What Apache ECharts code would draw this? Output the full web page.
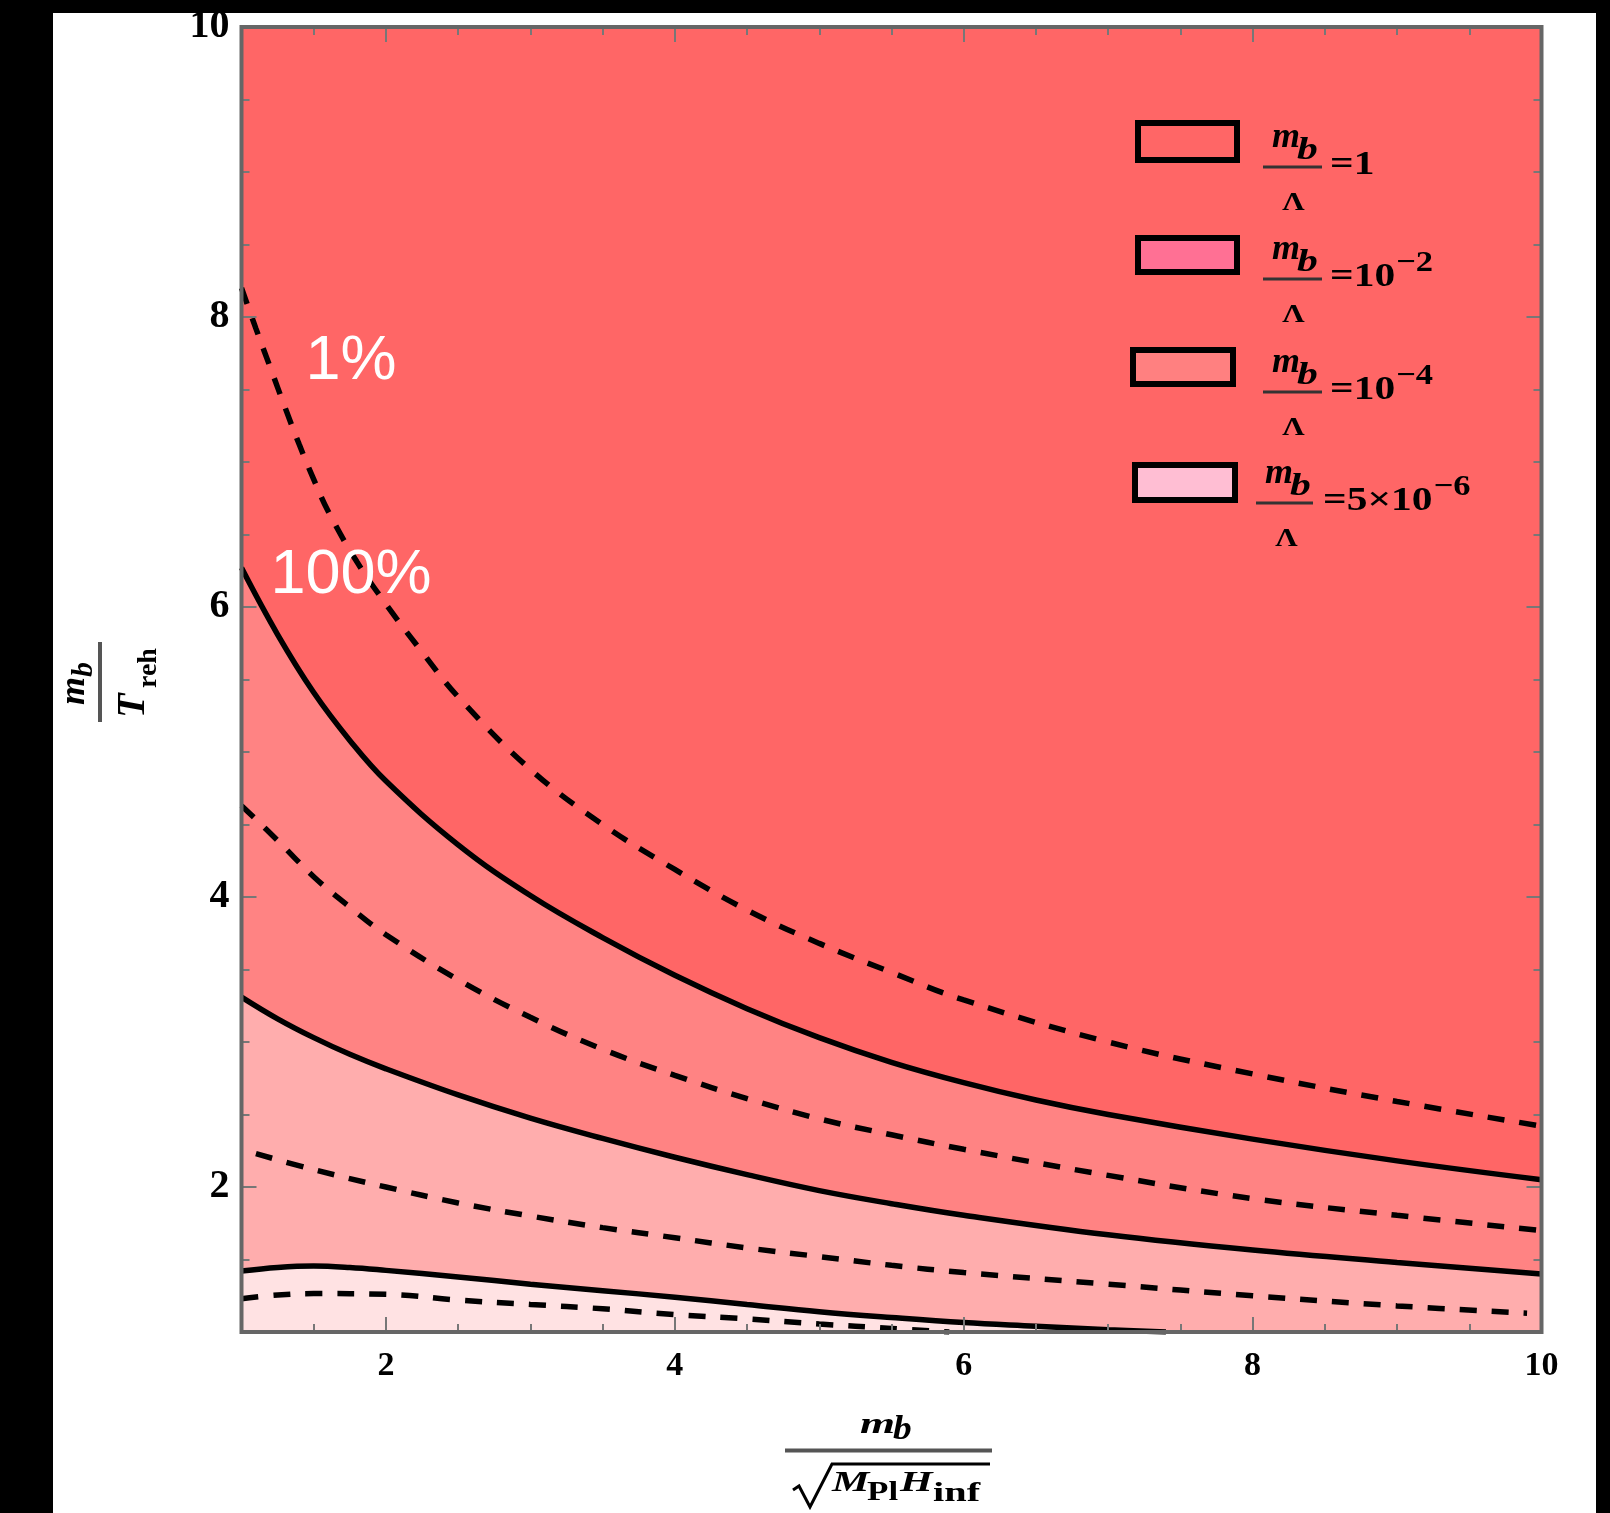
<!DOCTYPE html>
<html><head><meta charset="utf-8">
<script src="https://cdn.jsdelivr.net/npm/echarts@6/dist/echarts.min.js"></script>
<style>
html,body{margin:0;padding:0;background:#000;width:1610px;height:1513px;overflow:hidden}
#chart{position:absolute;left:53px;top:13px;width:1543px;height:1500px;background:#fff}
</style></head><body><div id="chart"></div>
<script>
// ---- data ----
const xTickLabels = [2, 4, 6, 8, 10];
const yTickLabels = [2, 4, 6, 8, 10];

// solid contours (boundaries of the shaded bands)
const s1X = [1, 1.25, 1.5, 1.75, 2, 2.5, 3, 3.5, 4, 4.5, 5, 5.5, 6, 6.5, 7, 8, 9, 10];
const s1Y = [6.27, 5.81, 5.41, 5.08, 4.80, 4.36, 4.01, 3.72, 3.46, 3.23, 3.03, 2.86, 2.72, 2.60, 2.50, 2.33, 2.18, 2.05];
const s2X = [1, 1.25, 1.5, 1.75, 2, 2.5, 3, 3.5, 4, 4.5, 5, 5.5, 6, 7, 8, 9, 10];
const s2Y = [3.31, 3.16, 3.03, 2.915, 2.815, 2.635, 2.475, 2.335, 2.205, 2.085, 1.975, 1.885, 1.805, 1.67, 1.565, 1.48, 1.40];
const s3X = [1, 1.25, 1.5, 1.75, 2, 2.5, 3, 3.5, 4, 4.5, 5, 5.5, 6, 6.5, 7, 7.4];
const s3Y = [1.42, 1.445, 1.455, 1.445, 1.425, 1.38, 1.33, 1.285, 1.24, 1.19, 1.14, 1.10, 1.065, 1.04, 1.015, 1.0];

// dashed contours
const d1X = [1, 1.1, 1.2, 1.3, 1.4, 1.5, 1.6, 1.8, 2, 2.25, 2.5, 3, 3.5, 4, 4.5, 5, 5.5, 6, 7, 8, 9, 10];
const d1Y = [8.20, 7.92, 7.65, 7.38, 7.12, 6.88, 6.66, 6.31, 6.02, 5.69, 5.38, 4.88, 4.50, 4.19, 3.91, 3.68, 3.48, 3.29, 3.0, 2.78, 2.59, 2.42];
const d2X = [1, 1.25, 1.5, 1.75, 2, 2.5, 3, 3.5, 4, 4.5, 5, 5.5, 6, 7, 8, 9, 10];
const d2Y = [4.63, 4.39, 4.14, 3.93, 3.74, 3.43, 3.17, 2.95, 2.77, 2.61, 2.47, 2.36, 2.26, 2.08, 1.92, 1.805, 1.70];
const d3X = [1.1, 1.5, 2, 2.5, 3, 3.5, 4, 4.5, 5, 5.5, 6, 7, 8, 9, 9.9];
const d3Y = [2.23, 2.12, 2.0, 1.89, 1.80, 1.72, 1.65, 1.58, 1.52, 1.46, 1.41, 1.33, 1.25, 1.18, 1.13];
const d4X = [1, 1.25, 1.5, 2, 2.5, 3, 3.5, 4, 4.5, 5, 5.5, 5.9];
const d4Y = [1.23, 1.255, 1.265, 1.26, 1.22, 1.19, 1.16, 1.12, 1.09, 1.055, 1.025, 1.0];

// legend
const legendValues = ['=1', '=10', '=10', '=5×10'];
const legendExps = ['', '−2', '−4', '−6'];
const legendFills = ['#FF6666', '#FF7094', '#FF8080', '#FFBED3'];
const curveLabels = ['1%', '100%'];

// ---- styles / layout ----
const bandTop = '#FF6666', band1 = '#FF8383', band2 = '#FFADAD', band3 = '#FFE2E3';
const G = {left: 188.5, top: 14, width: 1300, height: 1305};
const SERIF = '"Liberation Serif", "Times New Roman", serif';
const SANS = '"Liberation Sans", Arial, sans-serif';
const zip = (xs, ys) => xs.map((x, i) => [x, ys[i]]);

const mctx = document.createElement('canvas').getContext('2d');
function tw(font, s) { mctx.font = font; return mctx.measureText(s).width; }
function T(text, x, y, font, o) {
  o = o || {};
  const el = {type: 'text', x: x, y: y, z: 120, silent: true,
    style: {text: text, font: font, fill: o.fill || '#000',
      align: o.align || 'left', textAlign: o.align || 'left',
      verticalAlign: 'middle', textVerticalAlign: 'middle'}};
  if (o.sx) el.scaleX = o.sx;
  return el;
}

function mkAxis(dim, pos, major) {
  const labels = dim === 'x' ? xTickLabels : yTickLabels;
  const a = {
    type: 'value', min: 1, max: 10, position: pos, z: 10,
    interval: major ? 1 : 0.5,
    axisLine: {show: false}, splitLine: {show: false}, minorTick: {show: false},
    axisTick: {show: true, inside: true, length: major ? 15 : 8, lineStyle: {color: '#777', width: 2}},
    axisLabel: {show: false}
  };
  if (major) a.axisTick.customValues = labels;
  if (major && (pos === 'bottom' || pos === 'left')) {
    a.axisLabel = {show: true, customValues: labels, fontFamily: SERIF, fontWeight: 'bold',
      fontSize: dim === 'x' ? 34 : 40, color: '#000', margin: dim === 'x' ? 17 : 12};
  }
  return a;
}

function solid(xs, ys, fill) {
  return {type: 'line', data: zip(xs, ys), symbol: 'none', smooth: 0.4, z: 2,
    lineStyle: {color: '#000', width: 5.5},
    areaStyle: {color: fill, opacity: 1, origin: 'start'}};
}
function dashed(xs, ys) {
  return {type: 'line', data: zip(xs, ys), symbol: 'none', smooth: 0.4, z: 3,
    lineStyle: {color: '#000', width: 5.5, type: [17, 15], cap: 'butt'}};
}

const gfx = [];
// frame
gfx.push({type: 'rect', z: 110, silent: true, shape: {x: G.left, y: G.top, width: G.width, height: G.height},
  style: {fill: 'none', stroke: '#666', lineWidth: 4}});
// curve labels
gfx.push(T(curveLabels[0], 298, 348.5, 'normal 63px ' + SANS, {fill: '#fff', align: 'center'}));
gfx.push(T(curveLabels[1], 298, 562.5, 'normal 63px ' + SANS, {fill: '#fff', align: 'center'}));

// legend
const boxes = [[1085, 110, 99, 37], [1085, 225, 99, 34], [1080, 337, 100, 34], [1082, 452, 100, 35]];
const fracY = [154, 266, 379, 490];
for (let i = 0; i < 4; i++) {
  const b = boxes[i];
  gfx.push({type: 'rect', z: 115, silent: true, shape: {x: b[0], y: b[1], width: b[2], height: b[3]},
    style: {fill: legendFills[i], stroke: '#000', lineWidth: 6}});
  const fy = fracY[i], dx = i === 3 ? -7 : 0;
  gfx.push(T('m', 1219 + dx, fy - 29.2, 'italic bold 36px ' + SERIF));
  gfx.push(T('b', 1244 + dx, fy - 15.9, 'italic bold 32px ' + SERIF, {sx: 1.3}));
  gfx.push({type: 'line', z: 120, silent: true, shape: {x1: 1210 + dx, y1: fy, x2: 1269 + (i === 3 ? -9 : 0), y2: fy},
    style: {stroke: '#333', lineWidth: 3}});
  gfx.push(T('Λ', 1240.5 + dx, fy + 36.2, 'bold 26px ' + SERIF, {sx: 1.2, align: 'center'}));
  const mf = 'bold 34px ' + SERIF;
  const mx = 1277 + dx;
  gfx.push(T(legendValues[i], mx, fy - 1.6, mf, {sx: 1.22}));
  if (legendExps[i]) {
    gfx.push(T(legendExps[i], mx + tw(mf, legendValues[i]) * 1.22 + 1, fy - 16.2, 'bold 30px ' + SERIF, {sx: 1.15}));
  }
}

// x axis title: m_b / sqrt(M_Pl H_inf)
gfx.push(T('m', 807, 1411.8, 'italic bold 30px ' + SERIF, {sx: 1.5}));
gfx.push(T('b', 840, 1417.4, 'italic bold 34px ' + SERIF, {sx: 1.1}));
gfx.push({type: 'line', z: 120, silent: true, shape: {x1: 732, y1: 1437.5, x2: 939, y2: 1437.5}, style: {stroke: '#555', lineWidth: 4}});
gfx.push({type: 'polyline', z: 120, silent: true, shape: {points: [[740, 1477], [746, 1473], [757, 1494], [779, 1451], [937, 1451]]},
  style: {stroke: '#000', lineWidth: 3, fill: 'none'}});
gfx.push(T('M', 779, 1469.8, 'italic bold 30px ' + SERIF, {sx: 1.4}));
gfx.push(T('Pl', 814, 1479.8, 'bold 28px ' + SERIF, {sx: 1.25}));
gfx.push(T('H', 847, 1469.8, 'italic bold 30px ' + SERIF, {sx: 1.4}));
gfx.push(T('inf', 880, 1480.5, 'bold 28px ' + SERIF, {sx: 1.44}));

// y axis title: m_b / T_reh (rotated)
gfx.push({type: 'group', x: 47, y: 669, rotation: Math.PI / 2, z: 120, children: [
  T('m', -23, -25.2, 'italic bold 36px ' + SERIF),
  T('b', 5, -16.2, 'italic bold 30px ' + SERIF),
  {type: 'line', z: 120, silent: true, shape: {x1: -40, y1: 0, x2: 40, y2: 0}, style: {stroke: '#555', lineWidth: 4}},
  T('T', -36, 33.4, 'italic bold 40px ' + SERIF),
  T('reh', -6, 48.5, 'bold 28px ' + SERIF)
]});

const chart = echarts.init(document.getElementById('chart'), null, {renderer: 'canvas'});
chart.setOption({
  animation: false,
  backgroundColor: '#fff',
  grid: {left: G.left, top: G.top, width: G.width, height: G.height, show: true,
    backgroundColor: bandTop, borderWidth: 0, containLabel: false, outerBoundsMode: 'none'},
  xAxis: [mkAxis('x', 'bottom', true), mkAxis('x', 'bottom', false), mkAxis('x', 'top', true), mkAxis('x', 'top', false)],
  yAxis: [mkAxis('y', 'left', true), mkAxis('y', 'left', false), mkAxis('y', 'right', true), mkAxis('y', 'right', false)],
  series: [
    solid(s1X, s1Y, band1),
    solid(s2X, s2Y, band2),
    solid(s3X, s3Y, band3),
    dashed(d1X, d1Y),
    dashed(d2X, d2Y),
    dashed(d3X, d3Y),
    dashed(d4X, d4Y)
  ],
  graphic: gfx
});
</script></body></html>
